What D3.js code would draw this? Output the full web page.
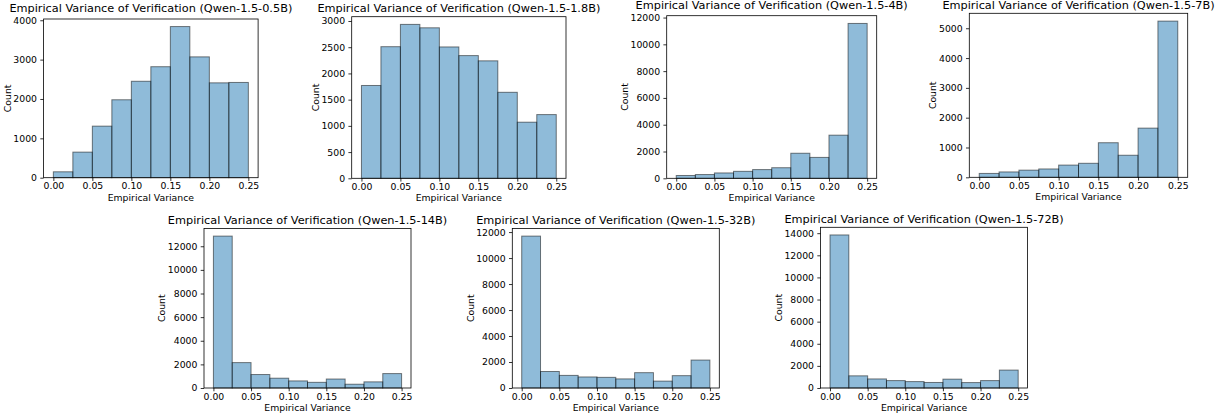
<!DOCTYPE html>
<html><head><meta charset="utf-8">
<script src="https://cdn.jsdelivr.net/npm/d3@7"></script>
<style>
html,body{margin:0;padding:0;background:#fff;}
text{font-family:"DejaVu Sans",sans-serif;fill:#000;}
</style></head>
<body>
<svg id="chart" width="1228" height="419"></svg>
<script>
// ---- data ----
const binEdges = [0, 0.025, 0.05, 0.075, 0.1, 0.125, 0.15, 0.175, 0.2, 0.225, 0.25];
const xTickValues = [0, 0.05, 0.1, 0.15, 0.2, 0.25];
const modelNames = ["Qwen-1.5-0.5B", "Qwen-1.5-1.8B", "Qwen-1.5-4B", "Qwen-1.5-7B", "Qwen-1.5-14B", "Qwen-1.5-32B", "Qwen-1.5-72B"];
const counts05B = [150, 650, 1310, 1980, 2450, 2820, 3840, 3070, 2410, 2420];
const counts18B = [1770, 2510, 2935, 2870, 2505, 2340, 2240, 1640, 1070, 1215];
const counts4B  = [210, 280, 400, 520, 650, 790, 1870, 1560, 3220, 11560];
const counts7B  = [130, 180, 240, 280, 410, 470, 1160, 740, 1650, 5240];
const counts14B = [12860, 2150, 1140, 830, 600, 480, 760, 320, 520, 1220];
const counts32B = [11690, 1270, 970, 850, 820, 700, 1180, 530, 950, 2150];
const counts72B = [13840, 1100, 820, 670, 580, 500, 800, 490, 670, 1620];
const yTicks05B = [0, 1000, 2000, 3000, 4000];
const yTicks18B = [0, 500, 1000, 1500, 2000, 2500, 3000];
const yTicks4B  = [0, 2000, 4000, 6000, 8000, 10000, 12000];
const yTicks7B  = [0, 1000, 2000, 3000, 4000, 5000];
const yTicks14B = [0, 2000, 4000, 6000, 8000, 10000, 12000];
const yTicks32B = [0, 2000, 4000, 6000, 8000, 10000, 12000];
const yTicks72B = [0, 2000, 4000, 6000, 8000, 10000, 12000, 14000];
const allCounts = [counts05B, counts18B, counts4B, counts7B, counts14B, counts32B, counts72B];
const allYTicks = [yTicks05B, yTicks18B, yTicks4B, yTicks7B, yTicks14B, yTicks32B, yTicks72B];

// ---- layout (axes boxes in px) ----
const boxes = [
  {left: 43.6,  width: 214.5, top: 19,    bottom: 177.7},
  {left: 351.7, width: 214.3, top: 16.7,  bottom: 178.3},
  {left: 666.7, width: 210,   top: 15.7,  bottom: 178.3},
  {left: 969.3, width: 218.4, top: 13.3,  bottom: 177.3},
  {left: 204,   width: 207,   top: 228.5, bottom: 388},
  {left: 512.3, width: 207,   top: 228.5, bottom: 388},
  {left: 820.6, width: 207,   top: 227.3, bottom: 388}
];

const svg = d3.select("#chart");
const FS = 9.3, TFS = 11.3, TL = 3.3, TP = 3.3;

modelNames.forEach((name, k) => {
  const b = boxes[k];
  const counts = allCounts[k];
  const x = d3.scaleLinear().domain([-0.0125, 0.2625]).range([b.left, b.left + b.width]);
  const y = d3.scaleLinear().domain([0, d3.max(counts) * 1.05]).range([b.bottom, b.top]);
  const g = svg.append("g");

  const bins = counts.map((c, i) => ({x0: binEdges[i], x1: binEdges[i + 1], c}));
  g.selectAll("rect.bar").data(bins).join("rect")
    .attr("class", "bar")
    .attr("x", d => x(d.x0))
    .attr("width", d => x(d.x1) - x(d.x0))
    .attr("y", d => y(d.c))
    .attr("height", d => y(0) - y(d.c))
    .attr("fill", "#1f77b4").attr("fill-opacity", 0.5)
    .attr("stroke", "#000").attr("stroke-opacity", 0.5).attr("stroke-width", 1);

  // x axis
  const gx = g.append("g").attr("transform", `translate(0,${b.bottom})`)
    .call(d3.axisBottom(x).tickValues(xTickValues).tickFormat(d3.format(".2f"))
      .tickSize(TL).tickPadding(1.7));
  gx.select(".domain").remove();
  gx.selectAll(".tick line").attr("stroke", "#000").attr("stroke-width", 0.8);
  gx.selectAll(".tick text").attr("font-size", FS).attr("font-family", "DejaVu Sans").attr("fill", "#000");

  // y axis
  const yt = allYTicks[k];
  const gy = g.append("g").attr("transform", `translate(${b.left},0)`)
    .call(d3.axisLeft(y).tickValues(yt).tickFormat(d3.format("d"))
      .tickSize(TL).tickPadding(TP));
  gy.select(".domain").remove();
  gy.selectAll(".tick line").attr("stroke", "#000").attr("stroke-width", 0.8);
  gy.selectAll(".tick text").attr("font-size", FS).attr("font-family", "DejaVu Sans").attr("fill", "#000");
  let maxW = 0;
  gy.selectAll(".tick text").each(function () { maxW = Math.max(maxW, this.getComputedTextLength()); });

  // frame
  g.append("rect").attr("x", b.left).attr("y", b.top)
    .attr("width", b.width).attr("height", b.bottom - b.top)
    .attr("fill", "none").attr("stroke", "#000").attr("stroke-width", 0.8);

  // title (kept clear of the top tick label)
  const topLabelTop = y(yt[yt.length - 1]) + 0.32 * FS - 0.93 * FS;
  const ty = Math.min(b.top - 4.8, topLabelTop - 2.8);
  g.append("text").attr("x", b.left + b.width / 2).attr("y", ty)
    .attr("text-anchor", "middle").attr("font-size", TFS)
    .text(`Empirical Variance of Verification (${name})`);

  // x label
  g.append("text").attr("x", b.left + b.width / 2).attr("y", b.bottom + 23)
    .attr("text-anchor", "middle").attr("font-size", FS)
    .text("Empirical Variance");

  // y label
  const lx = b.left - TL - TP - maxW - 2.6;
  g.append("text")
    .attr("transform", `translate(${lx},${(b.top + b.bottom) / 2}) rotate(-90)`)
    .attr("text-anchor", "middle").attr("font-size", FS)
    .text("Count");
});
</script>
</body></html>
